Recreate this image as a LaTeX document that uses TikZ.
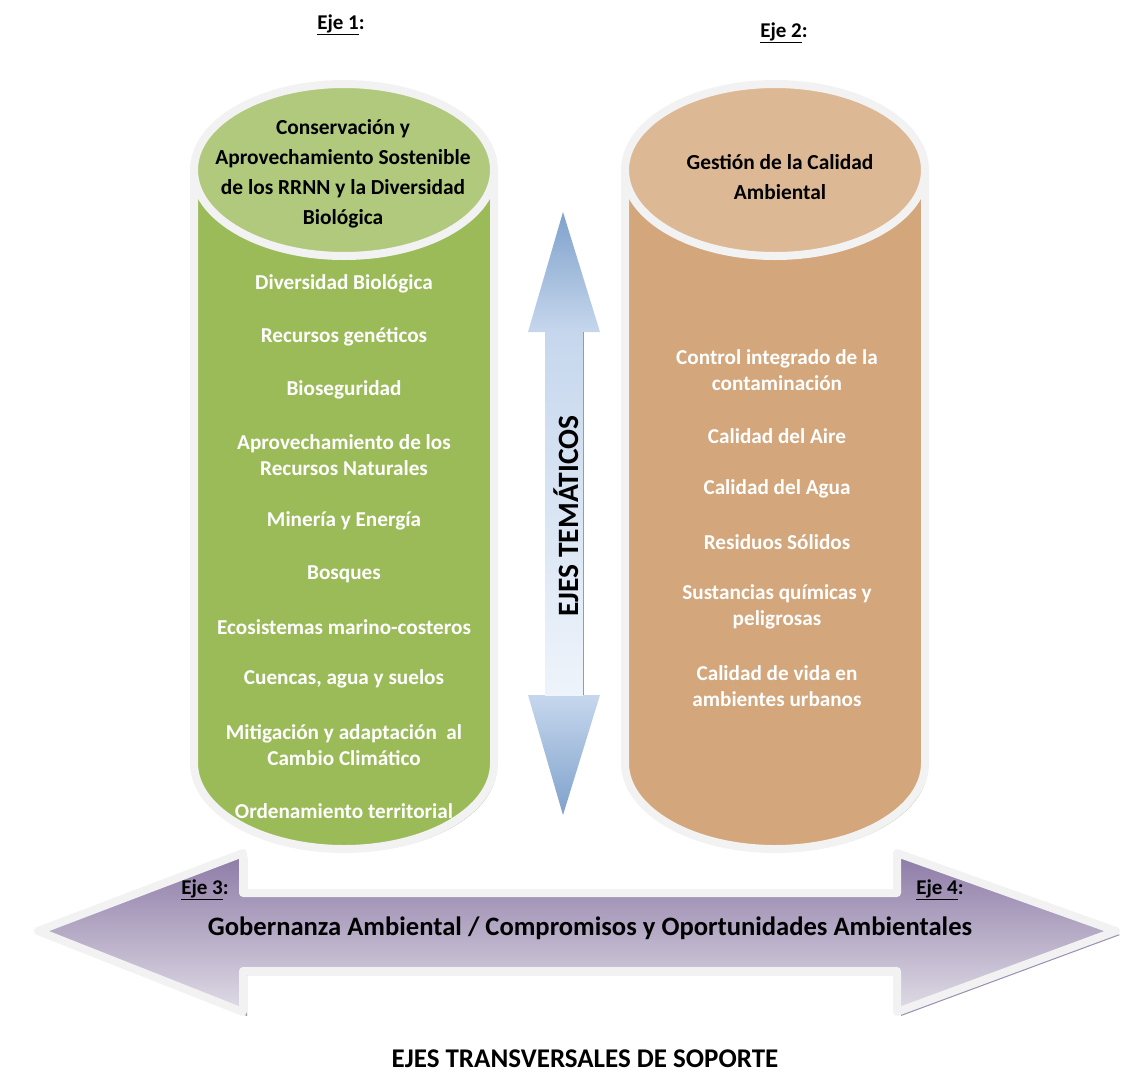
\documentclass[tikz,border=0pt]{standalone}
\usepackage{fontspec}
\setmainfont{Carlito}
\usetikzlibrary{positioning}

\definecolor{verde}{HTML}{9BBB59}
\definecolor{verdeclaro}{HTML}{B0C97C}
\definecolor{tierra}{HTML}{D3A67B}
\definecolor{tierraclara}{HTML}{DDB894}
\definecolor{borde}{HTML}{F2F2F2}
\definecolor{sombra}{HTML}{A7B592}
\definecolor{lila}{HTML}{8C7AA6}
\definecolor{lilaclaro}{HTML}{E0DCE6}
\definecolor{lilasombra}{HTML}{9A8FB0}
\definecolor{azul}{HTML}{8DB3E2}
\definecolor{azulclaro}{HTML}{C6D7ED}

\begin{document}
\begin{tikzpicture}[x=1pt,y=-1pt,
    every node/.style={align=center, font=\bfseries},
    item/.style={text=white, font=\fontsize{21.2}{26}\selectfont\bfseries},
    titulo/.style={font=\fontsize{21.4}{30}\selectfont\bfseries},
    eje/.style={font=\fontsize{21}{22}\selectfont\bfseries},
    rim/.style={draw=borde, line width=8pt}]
    \useasboundingbox (0,0) rectangle (1127,1072);

    % cilindro 1
    \fill[sombra] (197,173) -- (197,766) arc[start angle=180, end angle=360, x radius=150pt, y radius=86pt] -- (497,173) -- cycle;
    \filldraw[rim, fill=verde] (194,170) -- (194,763) arc[start angle=180, end angle=360, x radius=150pt, y radius=86pt] -- (494,170) -- cycle;
    \filldraw[rim, fill=verdeclaro] (344,170) ellipse [x radius=150pt, y radius=86pt];

    % cilindro 2
    \fill[sombra] (628,173) -- (628,766) arc[start angle=180, end angle=360, x radius=150pt, y radius=86pt] -- (928,173) -- cycle;
    \filldraw[rim, fill=tierra] (625,170) -- (625,763) arc[start angle=180, end angle=360, x radius=150pt, y radius=86pt] -- (925,170) -- cycle;
    \filldraw[rim, fill=tierraclara] (775,170) ellipse [x radius=150pt, y radius=86pt];

    % flecha vertical
    \shade[top color=azul!90!black, bottom color=azulclaro] (563,212) -- (600,332) -- (528,332) -- cycle;
    \shade[top color=azulclaro, bottom color=azul!90!black] (528,695) -- (600,695) -- (563,815) -- cycle;
    \shade[top color=azulclaro, bottom color=white!85!azul] (545,332) rectangle (583,695);
    \draw[azul!60!gray, line width=1pt] (583,332) -- (583,695);
    \node[rotate=90, font=\fontsize{29.5}{30}\selectfont\bfseries] (tematicos) at (566,516) {EJES TEMÁTICOS};

    % flecha horizontal
    \fill[lilasombra, line join=round] (42,935) -- (247,857) -- (247,897) -- (901,897) -- (901,857) -- (1120,935) -- (901,1016) -- (901,975) -- (247,975) -- (247,1016) -- cycle;
    \shade[top color=lila, bottom color=lilaclaro, draw=borde, line width=8pt, line join=round] (38,931) -- (243,853) -- (243,893) -- (897,893) -- (897,853) -- (1116,931) -- (897,1012) -- (897,971) -- (243,971) -- (243,1012) -- cycle;

    \node[eje] (eje1) at (341,25) {\underline{Eje 1}:};
    \node[eje] (eje2) at (784,33) {\underline{Eje 2}:};
    \node[eje] (eje3) at (205,890) {\underline{Eje 3}:};
    \node[eje] (eje4) at (940,890) {\underline{Eje 4}:};

    \node[titulo] (t1) at (343,174) {Conservación y\\Aprovechamiento Sostenible\\de los RRNN y la Diversidad\\Biológica};
    \node[titulo] (t2) at (780,177) {Gestión de la Calidad\\Ambiental};

    \node[item] (a1) at (344,284) {Diversidad Biológica};
    \node[item] (a2) at (344,337) {Recursos genéticos};
    \node[item] (a3) at (344,390) {Bioseguridad};
    \node[item] (a4) at (344,455) {Aprovechamiento de los\\Recursos Naturales};
    \node[item] (a5) at (344,521) {Minería y Energía};
    \node[item] (a6) at (344,574) {Bosques};
    \node[item] (a7) at (344,627) {Ecosistemas marino-costeros};
    \node[item] (a8) at (344,679) {Cuencas, agua y suelos};
    \node[item] (a9) at (344,745) {Mitigación y adaptación~ al\\Cambio Climático};
    \node[item] (a10) at (344,811) {Ordenamiento territorial};

    \node[item] (b1) at (777,370) {Control integrado de la\\contaminación};
    \node[item] (b2) at (777,436) {Calidad del Aire};
    \node[item] (b3) at (777,489) {Calidad del Agua};
    \node[item] (b4) at (777,542) {Residuos Sólidos};
    \node[item] (b5) at (777,607) {Sustancias químicas y\\peligrosas};
    \node[item] (b6) at (777,686) {Calidad de vida en\\ambientes urbanos};

    \node[font=\fontsize{26.6}{28}\selectfont\bfseries] (gob) at (590,928) {Gobernanza Ambiental / Compromisos y Oportunidades Ambientales};
    \node[font=\fontsize{27}{28}\selectfont\bfseries, anchor=base, inner sep=1pt] (soporte) at (585,1067) {EJES TRANSVERSALES DE SOPORTE};
\end{tikzpicture}
\end{document}
